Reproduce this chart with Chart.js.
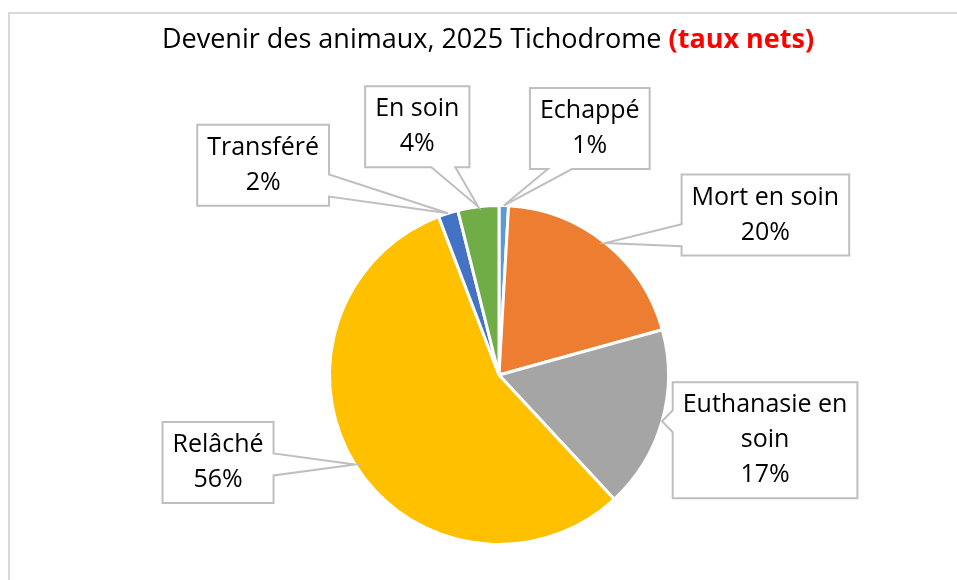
<!DOCTYPE html>
<html>
<head>
<meta charset="utf-8">
<script src="https://cdn.jsdelivr.net/npm/chart.js@4.4.1/dist/chart.umd.min.js"></script>
<style>
  html, body { margin: 0; padding: 0; background: #fff; overflow: hidden; }
  #frame { position: absolute; left: 8px; top: 12px; width: 949px; height: 568px;
           border-top: 2px solid #d9d9d9; border-left: 2px solid #d9d9d9; }
  #wrap { position: absolute; left: 0; top: 0; width: 957px; height: 580px; }
</style>
</head>
<body>
<div id="frame"></div>
<div id="wrap"><canvas id="chartCanvas"></canvas></div>
<script>
// DATA
const categories = ['Echappé', 'Mort en soin', 'Euthanasie en soin', 'Relâché', 'Transféré', 'En soin'];
const labelLines = [['Echappé'], ['Mort en soin'], ['Euthanasie en', 'soin'], ['Relâché'], ['Transféré'], ['En soin']];
const percents = [0.9, 19.8, 17.4, 56.1, 1.9, 3.9];
const sliceColors = ['#5B9BD5', '#ED7D31', '#A5A5A5', '#FFC000', '#4472C4', '#70AD47'];
const titleMain = 'Devenir des animaux, 2025 Tichodrome ';
const titleRed = '(taux nets)';

// callout box centre, relative to the slice tip
const boxOffsets = [[86, -77], [160, -28], [103, 19], [-137, -2], [-185, -48], [-61, -80]];

const FONT = '"Open Sans", "Noto Sans", sans-serif';

function calloutPath(ctx, box, tip, side, b1, b2) {
  const {l, t, r, b} = box;
  ctx.beginPath();
  ctx.moveTo(l, t);
  if (side === 'top') { ctx.lineTo(b1, t); ctx.lineTo(tip.x, tip.y); ctx.lineTo(b2, t); }
  ctx.lineTo(r, t);
  if (side === 'right') { ctx.lineTo(r, b1); ctx.lineTo(tip.x, tip.y); ctx.lineTo(r, b2); }
  ctx.lineTo(r, b);
  if (side === 'bottom') { ctx.lineTo(b2, b); ctx.lineTo(tip.x, tip.y); ctx.lineTo(b1, b); }
  ctx.lineTo(l, b);
  if (side === 'left') { ctx.lineTo(l, b2); ctx.lineTo(tip.x, tip.y); ctx.lineTo(l, b1); }
  ctx.closePath();
}

const calloutPlugin = {
  id: 'callouts',
  afterDraw(chart) {
    const ctx = chart.ctx;
    const meta = chart.getDatasetMeta(0);
    ctx.save();

    // title, two styles
    ctx.textBaseline = 'middle';
    ctx.textAlign = 'left';
    ctx.font = '27px ' + FONT;
    const w1 = ctx.measureText(titleMain).width;
    ctx.font = 'bold 27px ' + FONT;
    const w2 = ctx.measureText(titleRed).width;
    let tx = 488 - (w1 + w2) / 2;
    ctx.font = '27px ' + FONT;
    ctx.fillStyle = '#000';
    ctx.fillText(titleMain, tx, 40);
    ctx.font = 'bold 27px ' + FONT;
    ctx.fillStyle = '#ff0000';
    ctx.fillText(titleRed, tx + w1, 40);

    // data callouts
    ctx.font = '25px ' + FONT;
    ctx.textAlign = 'center';
    meta.data.forEach((arc, i) => {
      const p = arc.getProps(['x', 'y', 'startAngle', 'endAngle', 'outerRadius'], true);
      const mid = (p.startAngle + p.endAngle) / 2;
      const tip = {x: p.x + Math.cos(mid) * p.outerRadius, y: p.y + Math.sin(mid) * p.outerRadius};
      const lines = labelLines[i].concat([Math.round(percents[i]) + '%']);
      const w = Math.max(...lines.map(s => ctx.measureText(s).width)) + 20;
      const h = lines.length * 35 + 11;
      const cx = tip.x + boxOffsets[i][0], cy = tip.y + boxOffsets[i][1];
      const box = {l: cx - w / 2, t: cy - h / 2, r: cx + w / 2, b: cy + h / 2};

      // which side the pointer leaves from
      const out = {
        left: box.l - tip.x, right: tip.x - box.r,
        top: box.t - tip.y, bottom: tip.y - box.b
      };
      let side = 'left';
      for (const k in out) if (out[k] > out[side]) side = k;
      let b1, b2;
      if (side === 'left' || side === 'right') {
        const c = Math.min(Math.max(tip.y, box.t + h * 0.25), box.b - h * 0.25);
        b1 = c - 11; b2 = c + 11;
      } else {
        const c = Math.min(Math.max(tip.x, box.l + w * 0.25), box.r - w * 0.25);
        b1 = c - 12; b2 = c + 12;
      }
      calloutPath(ctx, box, tip, side, b1, b2);
      ctx.fillStyle = '#fff';
      ctx.fill();
      ctx.strokeStyle = '#bfbfbf';
      ctx.lineWidth = 2;
      ctx.stroke();

      ctx.fillStyle = '#000';
      lines.forEach((s, k) => {
        ctx.fillText(s, cx, cy - (lines.length - 1) * 17.5 + k * 35);
      });
    });
    ctx.restore();
  }
};

new Chart(document.getElementById('chartCanvas'), {
  type: 'pie',
  data: {
    labels: categories,
    datasets: [{
      data: percents,
      backgroundColor: sliceColors,
      borderColor: '#ffffff',
      borderWidth: 3
    }]
  },
  options: {
    responsive: true,
    maintainAspectRatio: false,
    animation: false,
    layout: { padding: { top: 204, bottom: 34, left: 328, right: 287 } },
    plugins: {
      legend: { display: false },
      tooltip: { enabled: false },
      title: { display: false }
    }
  },
  plugins: [calloutPlugin]
});
</script>
</body>
</html>
